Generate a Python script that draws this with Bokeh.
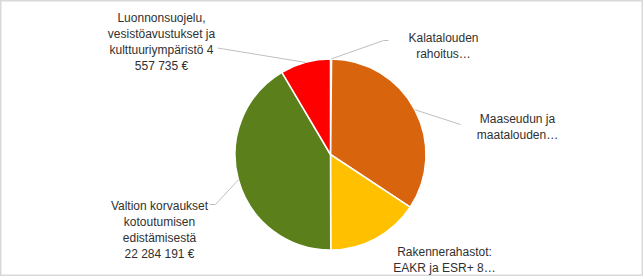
import numpy as np
from bokeh.plotting import figure
from bokeh.models import Range1d, ColumnDataSource
from bokeh.core.properties import value
from bokeh.embed import file_html
from bokeh.resources import INLINE

# ---- data (clockwise from 12 o'clock) ----
names = ["Kalatalouden rahoitus", "Maaseudun ja maatalouden", "Rakennerahastot: EAKR ja ESR+",
         "Valtion korvaukset kotoutumisen edistämisestä",
         "Luonnonsuojelu, vesistöavustukset ja kulttuuriympäristö"]
values = [100000, 18300000, 8400000, 22284191, 4557735]
labels = ["Kalatalouden\nrahoitus…",
          "Maaseudun ja\nmaatalouden…",
          "Rakennerahastot:\nEAKR ja ESR+ 8…",
          "Valtion korvaukset\nkotoutumisen\nedistämisestä\n22 284 191 €",
          "Luonnonsuojelu,\nvesistöavustukset ja\nkulttuuriympäristö 4\n557 735 €"]
colors = ["#4472C4", "#D8650E", "#FFC000", "#5A7F1B", "#FF0000"]

W, H = 643, 276
cx, cy_s, R = 330.0, 154.0, 95.5   # pie centre (screen px) and radius


def Y(ys):
    return H - ys


vals = np.array(values, dtype=float)
frac = vals / vals.sum()
c1 = np.cumsum(frac)
c0 = c1 - frac
start = np.pi / 2 - c1 * 2 * np.pi
end = np.pi / 2 - c0 * 2 * np.pi
mid = (c0 + c1) / 2 * 2 * np.pi  # clockwise from top

p = figure(width=W, height=H, x_range=Range1d(0, W), y_range=Range1d(0, H),
           output_backend="svg", toolbar_location=None, min_border=0)
p.axis.visible = False
p.grid.visible = False
p.outline_line_color = "#D9D9D9"
p.outline_line_width = 2
p.background_fill_color = "white"
p.border_fill_color = "white"

src = ColumnDataSource(dict(start=start, end=end, color=colors, name=names))
p.wedge(x=cx, y=Y(cy_s), radius=R, start_angle="start", end_angle="end",
        fill_color="color", line_color="white", line_width=1.5, source=src)

# leader lines: slice edge point at mid-angle -> label side
edge_x = cx + R * np.sin(mid)
edge_y = cy_s - R * np.cos(mid)
label_side = {
    0: [(388, 40), (383, 40)],
    1: [(460, 124)],
    3: [(209, 204), (215, 204)],
    4: [(217, 47.5)],
}
for i, pts in label_side.items():
    xs = [q[0] for q in pts] + [edge_x[i]]
    ys = [q[1] for q in pts] + [edge_y[i]]
    p.line(xs, Y(np.array(ys)), line_color="#BFBFBF", line_width=1)

# labels: (centre x, top y)
label_pos = [(443, 30), (517, 111), (444, 244), (159, 198), (161, 10)]
lx = [q[0] for q in label_pos]
ly = [Y(q[1]) for q in label_pos]
p.text(x=lx, y=ly, text=labels, text_align="center", text_baseline="top",
       text_font=value("Liberation Sans"), text_font_size="12px",
       text_color="#303030", text_line_height=1.15)

open("out.html", "w").write(file_html(p, INLINE))
